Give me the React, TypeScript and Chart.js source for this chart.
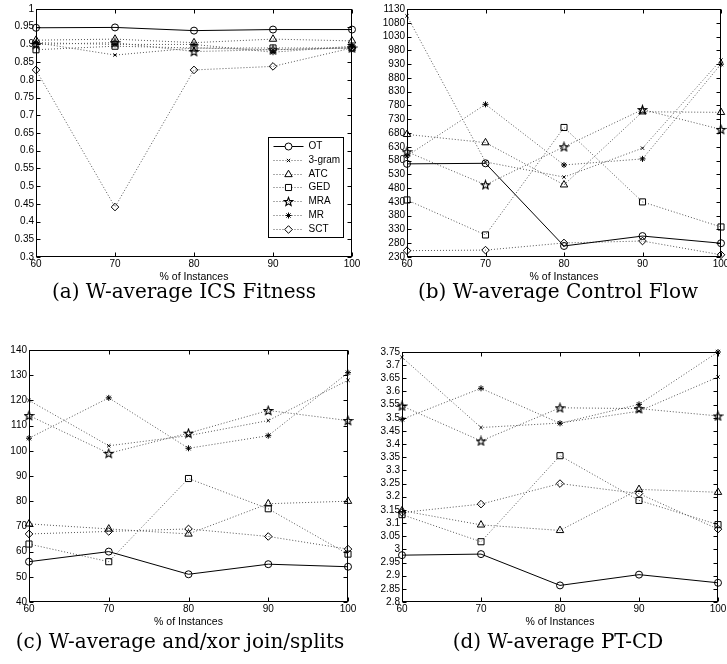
import React, { useEffect, useRef } from 'react';
import { Chart, registerables } from 'chart.js';
import { drawPoint } from 'chart.js/helpers';

Chart.register(...registerables);

// ---------- data ----------
const xPercent = [60, 70, 80, 90, 100];
const seriesNames = ['OT', '3-gram', 'ATC', 'GED', 'MRA', 'MR', 'SCT'];

// (a) W-average ICS Fitness
const icsOT = [0.947, 0.948, 0.939, 0.942, 0.942];
const ics3gram = [0.905, 0.87, 0.89, 0.885, 0.89];
const icsATC = [0.912, 0.915, 0.905, 0.915, 0.91];
const icsGED = [0.885, 0.895, 0.89, 0.89, 0.89];
const icsMRA = [0.9, 0.905, 0.88, 0.885, 0.89];
const icsMR = [0.905, 0.9, 0.9, 0.878, 0.895];
const icsSCT = [0.828, 0.441, 0.828, 0.838, 0.89];

// (b) W-average Control Flow
const cfOT = [568, 570, 270, 306, 280];
const cf3gram = [1105, 575, 520, 625, 945];
const cfATC = [675, 645, 492, 757, 755];
const cfGED = [437, 310, 700, 430, 339];
const cfMRA = [612, 492, 630, 765, 693];
const cfMR = [597, 784, 564, 586, 930];
const cfSCT = [253, 255, 281, 288, 238];

// (c) W-average and/xor join/splits
const jsOT = [56, 60, 51, 55, 54];
const js3gram = [120, 102, 106, 112, 128];
const jsATC = [71, 69, 67, 79, 80];
const jsGED = [63, 56, 89, 77, 59];
const jsMRA = [114, 99, 107, 116, 112];
const jsMR = [105, 121, 101, 106, 131];
const jsSCT = [67, 68, 69, 66, 61];

// (d) W-average PT-CD
const ptOT = [2.978, 2.982, 2.863, 2.904, 2.873];
const pt3gram = [3.73, 3.463, 3.48, 3.525, 3.655];
const ptATC = [3.147, 3.093, 3.072, 3.228, 3.217];
const ptGED = [3.132, 3.029, 3.356, 3.186, 3.094];
const ptMRA = [3.545, 3.412, 3.538, 3.535, 3.507];
const ptMR = [3.494, 3.612, 3.479, 3.551, 3.75];
const ptSCT = [3.14, 3.172, 3.25, 3.212, 3.077];

const xLabel = '% of Instances';
const captions = [
  '(a) W-average ICS Fitness',
  '(b) W-average Control Flow',
  '(c) W-average and/xor join/splits',
  '(d) W-average PT-CD',
];

// ---------- styles ----------
const SANS = '"Liberation Sans", Arial, sans-serif';
const SERIF = '"DejaVu Serif", "Liberation Serif", serif';

let pentagramCache: HTMLCanvasElement | null = null;
function pentagram(): HTMLCanvasElement {
  if (pentagramCache) return pentagramCache;
  const c = document.createElement('canvas');
  c.width = 11;
  c.height = 11;
  const g = c.getContext('2d')!;
  g.strokeStyle = '#000';
  g.lineWidth = 1.1;
  g.beginPath();
  for (let i = 0; i < 10; i++) {
    const r = i % 2 === 0 ? 4.5 : 1.9;
    const a = -Math.PI / 2 + (i * Math.PI) / 5;
    const px = 5.5 + r * Math.cos(a);
    const py = 5.9 + r * Math.sin(a);
    if (i === 0) g.moveTo(px, py);
    else g.lineTo(px, py);
  }
  g.closePath();
  g.stroke();
  pentagramCache = c;
  return c;
}

function markerFor(i: number): { style: any; radius: number } {
  switch (i) {
    case 0: return { style: 'circle', radius: 3.5 };
    case 1: return { style: 'crossRot', radius: 2.3 };
    case 2: return { style: 'triangle', radius: 4.3 };
    case 3: return { style: 'rect', radius: 4.3 };
    case 4: return { style: pentagram(), radius: 5 };
    case 5: return { style: 'star', radius: 3 };
    default: return { style: 'rectRot', radius: 3.8 };
  }
}

const framePlugin = {
  id: 'matlabFrame',
  afterDraw(chart: any) {
    const { ctx, chartArea: ca, scales } = chart;
    const L = Math.round(ca.left) + 0.5;
    const R = Math.round(ca.right) - 0.5;
    const T = Math.round(ca.top) + 0.5;
    const B = Math.round(ca.bottom) - 0.5;
    ctx.save();
    ctx.strokeStyle = '#000';
    ctx.lineWidth = 1;
    ctx.setLineDash([]);
    ctx.strokeRect(L, T, R - L, B - T);
    const tl = 4;
    ctx.beginPath();
    scales.x.ticks.forEach((t: any) => {
      const px = Math.round(scales.x.getPixelForValue(t.value)) + 0.5;
      ctx.moveTo(px, B);
      ctx.lineTo(px, B - tl);
      ctx.moveTo(px, T);
      ctx.lineTo(px, T + tl);
    });
    scales.y.ticks.forEach((t: any) => {
      const py = Math.round(scales.y.getPixelForValue(t.value)) + 0.5;
      ctx.moveTo(L, py);
      ctx.lineTo(L + tl, py);
      ctx.moveTo(R, py);
      ctx.lineTo(R - tl, py);
    });
    ctx.stroke();
    ctx.restore();
  },
};

const legendPlugin = {
  id: 'insideLegend',
  afterDraw(chart: any) {
    const { ctx, chartArea: ca } = chart;
    const w = 75;
    const h = 100;
    const x1 = Math.round(ca.right - 9 - w) + 0.5;
    const y1 = Math.round(ca.top + 128) + 0.5;
    ctx.save();
    ctx.fillStyle = '#fff';
    ctx.fillRect(x1, y1, w, h);
    ctx.strokeStyle = '#000';
    ctx.lineWidth = 1;
    ctx.setLineDash([]);
    ctx.strokeRect(x1, y1, w, h);
    chart.data.datasets.forEach((ds: any, i: number) => {
      const y = Math.round(y1 + 8.5 + i * 13.8) + 0.5;
      ctx.save();
      ctx.strokeStyle = ds.borderColor;
      ctx.lineWidth = 1;
      ctx.setLineDash(ds.borderDash || []);
      ctx.beginPath();
      ctx.moveTo(x1 + 5, y);
      ctx.lineTo(x1 + 35, y);
      ctx.stroke();
      ctx.restore();
      ctx.save();
      ctx.strokeStyle = '#000';
      ctx.fillStyle = '#fff';
      ctx.lineWidth = 1;
      ctx.setLineDash([]);
      drawPoint(ctx, { pointStyle: ds.pointStyle, radius: ds.pointRadius, rotation: 0, borderWidth: 1 } as any, x1 + 20, y);
      ctx.restore();
      ctx.fillStyle = '#000';
      ctx.font = `10px ${SANS}`;
      ctx.textBaseline = 'middle';
      ctx.textAlign = 'left';
      ctx.fillText(ds.label, x1 + 40, y);
    });
    ctx.restore();
  },
};

type PanelSpec = {
  left: number;
  top: number;
  width: number;
  height: number;
  yW: number;
  padR: number;
  yMin: number;
  yMax: number;
  yStep: number;
  series: number[][];
  legend: boolean;
};

function buildConfig(p: PanelSpec): any {
  const datasets = p.series.map((vals, i) => {
    const m = markerFor(i);
    return {
      label: seriesNames[i],
      data: xPercent.map((x, j) => ({ x, y: vals[j] })),
      borderColor: i === 0 ? '#000' : '#555',
      borderWidth: 1,
      borderDash: i === 0 ? [] : [1, 2],
      pointStyle: m.style,
      pointRadius: m.radius,
      pointHoverRadius: m.radius,
      pointBorderColor: '#000',
      pointBackgroundColor: 'rgba(0,0,0,0)',
      pointBorderWidth: 1,
      tension: 0,
      fill: false,
      clip: false,
    };
  });
  return {
    type: 'line',
    data: { datasets },
    options: {
      animation: false,
      responsive: false,
      events: [],
      layout: { padding: { left: 0, right: p.padR, top: 9, bottom: 2 } },
      plugins: { legend: { display: false }, tooltip: { enabled: false }, title: { display: false } },
      scales: {
        x: {
          type: 'linear',
          min: 60,
          max: 100,
          ticks: {
            stepSize: 10,
            padding: 1,
            color: '#000',
            maxRotation: 0,
            autoSkip: false,
            font: { family: SANS, size: 10 },
          },
          grid: { display: false, drawTicks: false },
          border: { display: false },
          title: {
            display: true,
            text: xLabel,
            color: '#000',
            font: { family: SANS, size: 10.5 },
            padding: { top: 0, bottom: 0 },
          },
          afterFit: (s: any) => {
            s.height = 26;
            s.paddingLeft = 0;
            s.paddingRight = 0;
          },
        },
        y: {
          type: 'linear',
          min: p.yMin,
          max: p.yMax,
          ticks: {
            stepSize: p.yStep,
            maxTicksLimit: 100,
            autoSkip: false,
            padding: 2,
            color: '#000',
            font: { family: SANS, size: 10 },
            callback: (v: any) => String(Number(Number(v).toFixed(4))),
          },
          grid: { display: false, drawTicks: false },
          border: { display: false },
          afterFit: (s: any) => {
            s.width = p.yW;
            s.paddingTop = 0;
            s.paddingBottom = 0;
          },
        },
      },
    },
    plugins: p.legend ? [framePlugin, legendPlugin] : [framePlugin],
  };
}

function Panel({ spec }: { spec: PanelSpec }) {
  const ref = useRef<HTMLCanvasElement | null>(null);
  useEffect(() => {
    if (!ref.current) return;
    const chart = new Chart(ref.current, buildConfig(spec));
    return () => chart.destroy();
  }, [spec]);
  return (
    <canvas
      ref={ref}
      width={spec.width}
      height={spec.height}
      style={{ position: 'absolute', left: spec.left, top: spec.top, width: spec.width, height: spec.height }}
    />
  );
}

const panels: PanelSpec[] = [
  { left: 2, top: 0, width: 360, height: 285, yW: 34, padR: 10, yMin: 0.3, yMax: 1, yStep: 0.05,
    series: [icsOT, ics3gram, icsATC, icsGED, icsMRA, icsMR, icsSCT], legend: true },
  { left: 369, top: 0, width: 358, height: 285, yW: 38, padR: 6, yMin: 230, yMax: 1130, yStep: 50,
    series: [cfOT, cf3gram, cfATC, cfGED, cfMRA, cfMR, cfSCT], legend: false },
  { left: 2, top: 341, width: 358, height: 289, yW: 27, padR: 12, yMin: 40, yMax: 140, yStep: 10,
    series: [jsOT, js3gram, jsATC, jsGED, jsMRA, jsMR, jsSCT], legend: false },
  { left: 370, top: 343, width: 357, height: 287, yW: 32, padR: 9, yMin: 2.8, yMax: 3.75, yStep: 0.05,
    series: [ptOT, pt3gram, ptATC, ptGED, ptMRA, ptMR, ptSCT], legend: false },
];

const captionPos = [
  { cx: 184, cy: 291 },
  { cx: 558, cy: 291 },
  { cx: 180, cy: 641 },
  { cx: 558, cy: 641 },
];

export default function App() {
  return (
    <div style={{ position: 'absolute', left: 0, top: 0, width: 727, height: 664, overflow: 'hidden', background: '#fff' }}>
      {panels.map((p, i) => (
        <Panel key={i} spec={p} />
      ))}
      {captions.map((c, i) => (
        <div
          key={'c' + i}
          style={{
            position: 'absolute',
            left: captionPos[i].cx - 200,
            top: captionPos[i].cy - 12,
            width: 400,
            height: 24,
            lineHeight: '24px',
            fontSize: 20,
            fontFamily: SERIF,
            textAlign: 'center',
            color: '#000',
            whiteSpace: 'nowrap',
          }}
        >
          {c}
        </div>
      ))}
    </div>
  );
}
